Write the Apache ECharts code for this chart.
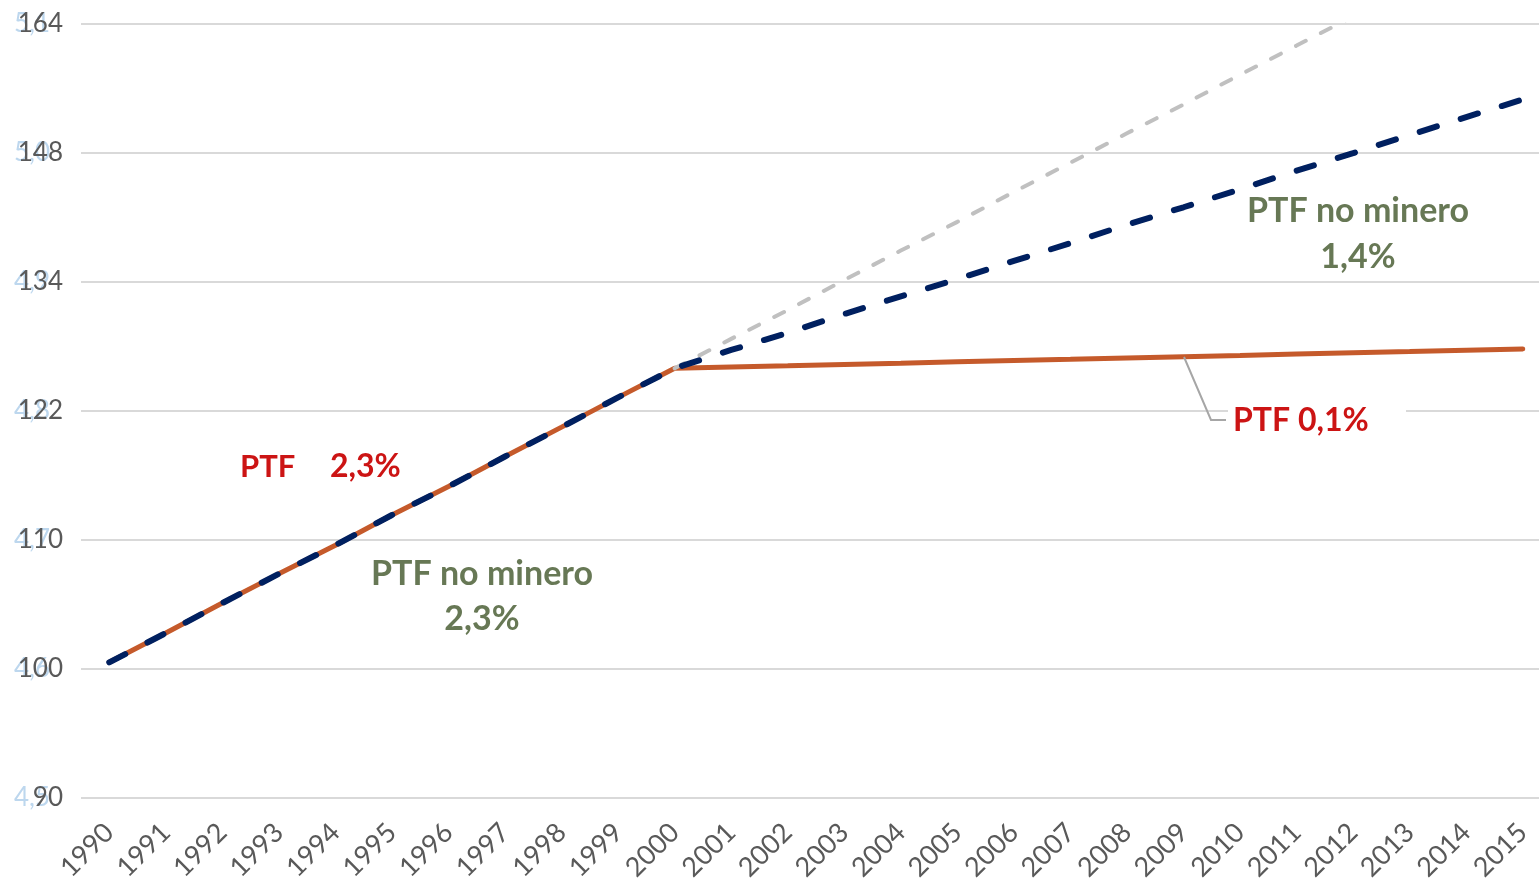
<!DOCTYPE html>
<html>
<head>
<meta charset="utf-8">
<script src="https://cdn.jsdelivr.net/npm/echarts@6/dist/echarts.min.js"></script>
<style>
    html, body { margin: 0; padding: 0; background: #fff; }
    #chart { width: 1539px; height: 887px; }
</style>
</head>
<body>
<div id="chart"></div>
<script>
// years on the x axis
const years = ["1990", "1991", "1992", "1993", "1994", "1995", "1996", "1997", "1998", "1999", "2000",
    "2001", "2002", "2003", "2004", "2005", "2006", "2007", "2008", "2009", "2010",
    "2011", "2012", "2013", "2014", "2015"];

// index levels (1990 = 100), plotted on a natural-log axis
const ptf = [100.0, 102.3, 104.7, 107.1, 109.5, 112.1, 114.6, 117.3, 120.0, 122.8, 125.6,
    125.73, 125.85, 125.98, 126.10, 126.23, 126.36, 126.48, 126.61, 126.74, 126.86,
    126.99, 127.12, 127.24, 127.37, 127.5];
const ptfNoMinero = [100.0, 102.3, 104.7, 107.1, 109.5, 112.1, 114.6, 117.3, 120.0, 122.8, 125.6,
    127.4, 129.1, 131.0, 132.8, 134.6, 136.5, 138.4, 140.4, 142.3, 144.3,
    146.4, 148.4, 150.5, 152.6, 154.7];
const trendPrevio = [null, null, null, null, null, null, null, null, null, null, 125.6,
    128.5, 131.4, 134.5, 137.6, 140.7, 144.0, 147.3, 150.7, 154.1, 157.7,
    161.3, 165.0, null, null, null];

// y tick labels (level) and the faint log labels behind them
const yTickLabels = ["90", "100", "110", "122", "134", "148", "164"];
const yLogLabels = ["4,5", "4,6", "4,7", "4,8", "4,9", "5,0", "5,1"];

const FONT = "Lato, 'Open Sans', sans-serif";

function toLog(arr) {
    return arr.map(v => (v == null ? null : Math.log(v)));
}
function tickIndex(v) {
    return Math.round((v - 4.5) / 0.1);
}

const chart = echarts.init(document.getElementById("chart"));

const option = {
    animation: false,
    grid: {
        left: 81,
        top: 24,
        width: 1470,
        height: 774,
        containLabel: false,
        outerBoundsMode: "none"
    },
    xAxis: {
        type: "category",
        boundaryGap: true,
        data: years,
        axisLine: { show: false },
        axisTick: { show: false },
        axisLabel: {
            rotate: 45,
            margin: 30,
            color: "#595959",
            fontSize: 27,
            fontFamily: FONT,
            interval: 0
        }
    },
    yAxis: [
        {
            type: "value",
            min: 4.5,
            max: 5.1,
            interval: 0.1,
            position: "left",
            z: 1,
            axisLine: { show: false },
            axisTick: { show: false },
            splitLine: { show: false },
            axisLabel: {
                margin: 31,
                color: "#BDD7EE",
                fontSize: 26,
                fontFamily: FONT,
                formatter: v => yLogLabels[tickIndex(v)]
            }
        },
        {
            type: "value",
            min: 4.5,
            max: 5.1,
            interval: 0.1,
            position: "left",
            z: 2,
            axisLine: { show: false },
            axisTick: { show: false },
            splitLine: { lineStyle: { color: "#D9D9D9", width: 2 } },
            axisLabel: {
                margin: 18,
                color: "#595959",
                fontSize: 26,
                fontFamily: FONT,
                formatter: v => yTickLabels[tickIndex(v)]
            }
        }
    ],
    series: [
        {
            name: "PTF",
            type: "line",
            yAxisIndex: 1,
            data: toLog(ptf),
            symbol: "none",
            z: 2,
            lineStyle: { color: "#C55A2B", width: 5, cap: "round" }
        },
        {
            name: "Tendencia",
            type: "line",
            yAxisIndex: 1,
            data: toLog(trendPrevio),
            symbol: "none",
            clip: true,
            z: 3,
            lineStyle: { color: "#C0C0C0", width: 4, type: [11, 17], cap: "round" }
        },
        {
            name: "PTF no minero",
            type: "line",
            yAxisIndex: 1,
            data: toLog(ptfNoMinero),
            symbol: "none",
            z: 4,
            lineStyle: { color: "#002060", width: 6, type: [18, 25], cap: "round" }
        }
    ],
    graphic: [
        {
            type: "text", left: 240, top: 451, z: 100,
            style: { text: "PTF", fill: "#CC1414", font: "bold 31px " + FONT }
        },
        {
            type: "text", left: 330, top: 451, z: 100,
            style: { text: "2,3%", fill: "#CC1414", font: "bold 32px " + FONT }
        },
        {
            type: "text", x: 482, y: 597, z: 100,
            style: { text: "PTF no minero\n2,3%", fill: "#677855", font: "bold 34px " + FONT,
                align: "center", verticalAlign: "middle", lineHeight: 45 }
        },
        {
            type: "text", x: 1358, y: 234, z: 100,
            style: { text: "PTF no minero\n1,4%", fill: "#677855", font: "bold 34px " + FONT,
                align: "center", verticalAlign: "middle", lineHeight: 46 }
        },
        {
            type: "polyline", z: 100,
            shape: { points: [[1184, 357], [1211, 420], [1226, 420]] },
            style: { stroke: "#A6A6A6", lineWidth: 2, fill: null }
        },
        {
            type: "rect", z: 100,
            shape: { x: 1228, y: 402, width: 178, height: 38 },
            style: { fill: "#ffffff" }
        },
        {
            type: "text", left: 1233, top: 405, z: 101,
            style: { text: "PTF 0,1%", fill: "#CC1414", font: "bold 32px " + FONT }
        }
    ]
};

chart.setOption(option);
</script>
</body>
</html>
